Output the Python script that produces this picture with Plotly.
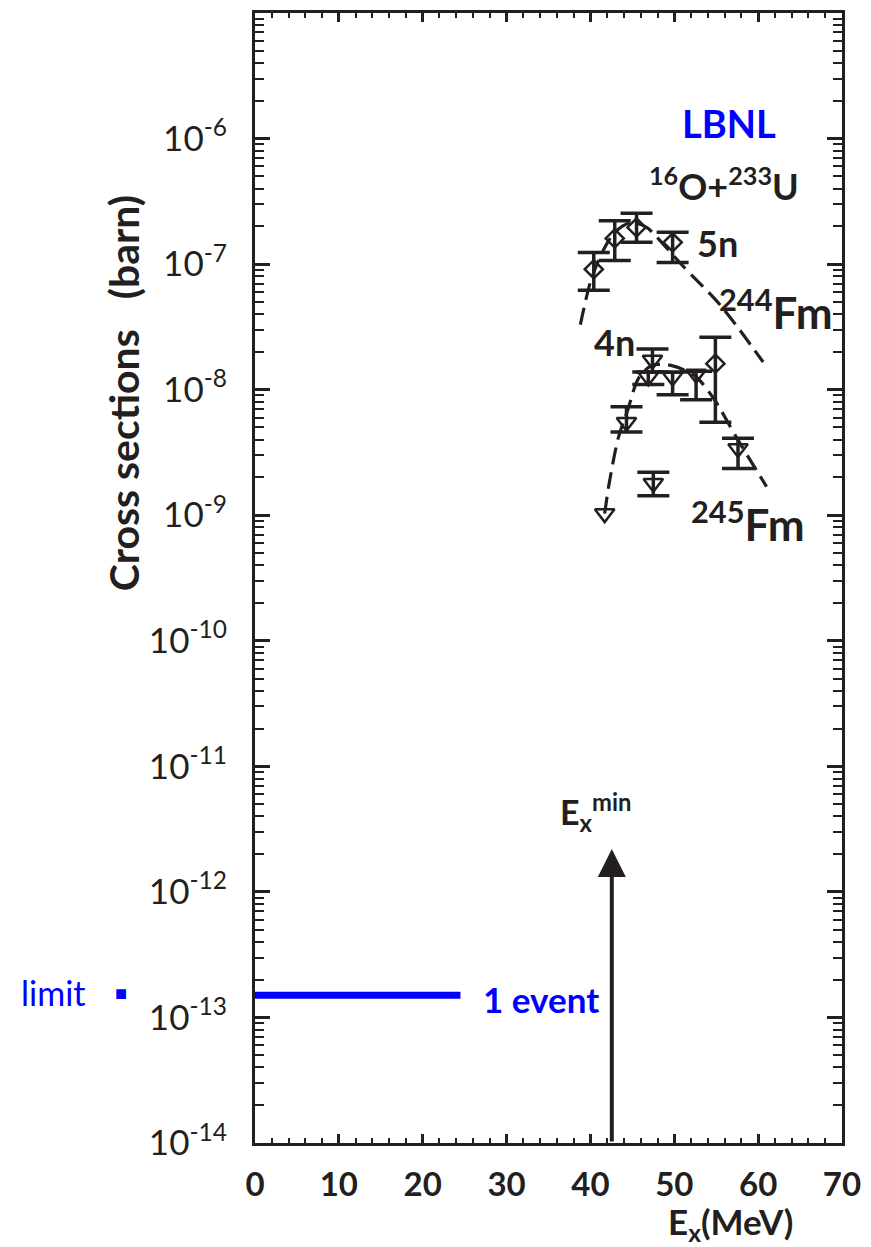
import numpy as np
import plotly.graph_objects as go

# ---------------- data ----------------
# 5n channel (244Fm), diamonds
E_5n = [40.4, 42.9, 45.5, 49.8, 54.9]
sig_5n = [9.1e-8, 1.6e-7, 1.96e-7, 1.49e-7, 1.61e-8]
sig_5n_hi = [1.24e-7, 2.21e-7, 2.54e-7, 1.79e-7, 2.62e-8]
sig_5n_lo = [6.2e-8, 1.07e-7, 1.49e-7, 1.03e-7, 5.5e-9]

# 4n channel (245Fm), down triangles with error bars
E_4n = [44.3, 46.9, 47.4, 47.5, 49.8, 52.6, 57.6]
sig_4n = [5.5e-9, 1.26e-8, 1.72e-8, 1.8e-9, 1.26e-8, 1.33e-8, 3.4e-9]
sig_4n_hi = [7.3e-9, 1.38e-8, 2.11e-8, 2.2e-9, 1.38e-8, 1.4e-8, 4.1e-9]
sig_4n_lo = [4.6e-9, 1.1e-8, 1.38e-8, 1.43e-9, 9.1e-9, 8.3e-9, 2.36e-9]
# 4n point without error bar (lowest energy)
E_4n_bare = [41.7]
sig_4n_bare = [1.03e-9]

# dashed guide curves
E_curve_5n = [38.8, 40.0, 41.4, 42.9, 44.9, 46.7, 47.6, 51.0, 55.5, 60.6]
sig_curve_5n = [3.3e-8, 7.2e-8, 1.24e-7, 1.79e-7, 2.15e-7, 1.96e-7, 1.73e-7, 9.7e-8, 4.7e-8, 1.66e-8]
E_curve_4n = [41.7, 42.2, 43.3, 44.5, 45.7, 47.3, 49.6, 52.4, 54.7, 57.5, 61.0]
sig_curve_4n = [1.03e-9, 1.74e-9, 4.07e-9, 7.06e-9, 1.22e-8, 1.56e-8, 1.56e-8, 1.3e-8, 8.5e-9, 4.07e-9, 1.69e-9]

# one-event limit line
E_limit = [0, 24.5]
sig_limit = [1.5e-13, 1.5e-13]

# E_x^min arrow
E_min = 42.55
arrow_top = 2.2e-12
arrow_bottom = 1e-14

# ticks
x_tickvals = [0, 10, 20, 30, 40, 50, 60, 70]
x_ticktext = ["0", "10", "20", "30", "40", "50", "60", "70"]
y_exponents = [-14, -13, -12, -11, -10, -9, -8, -7, -6]
y_tickvals = [10.0 ** e for e in y_exponents]
y_ticktext = ["10<sup>%d</sup>" % e for e in y_exponents]
y_minorvals = [m * 10.0 ** e for e in range(-14, -5) for m in range(2, 10)]

# ---------------- style ----------------
BLACK = "#231f20"
BLUE = "#0000ff"
FONT = "Lato"


def plus_minus(val, hi, lo):
    plus = [h - v for v, h in zip(val, hi)]
    minus = [v - l for v, l in zip(val, lo)]
    return plus, minus


fig = go.Figure()

curve_line = dict(color=BLACK, width=3.2, dash="17px,8px", shape="spline", smoothing=0.8)
fig.add_trace(go.Scatter(x=E_curve_5n, y=sig_curve_5n, mode="lines", line=curve_line, hoverinfo="skip"))
fig.add_trace(go.Scatter(x=E_curve_4n, y=sig_curve_4n, mode="lines", line=curve_line, hoverinfo="skip"))

err_style = dict(type="data", symmetric=False, color=BLACK, thickness=3.5, width=16)

p5, m5 = plus_minus(sig_5n, sig_5n_hi, sig_5n_lo)
fig.add_trace(go.Scatter(x=E_5n, y=sig_5n, mode="markers",
                         marker=dict(symbol="diamond-open", size=14, color=BLACK, line=dict(width=2.5, color=BLACK)),
                         error_y=dict(array=p5, arrayminus=m5, **err_style)))

p4, m4 = plus_minus(sig_4n, sig_4n_hi, sig_4n_lo)
tri_marker = dict(symbol="triangle-down-open", size=17, color=BLACK, line=dict(width=2.5, color=BLACK))
fig.add_trace(go.Scatter(x=E_4n, y=sig_4n, mode="markers", marker=tri_marker,
                         error_y=dict(array=p4, arrayminus=m4, **err_style)))
fig.add_trace(go.Scatter(x=E_4n_bare, y=sig_4n_bare, mode="markers", marker=tri_marker))

# limit line
fig.add_trace(go.Scatter(x=E_limit, y=sig_limit, mode="lines",
                         line=dict(color=BLUE, width=7), hoverinfo="skip"))

# E_x^min arrow
fig.add_annotation(x=E_min, y=np.log10(arrow_top), ax=E_min, ay=np.log10(arrow_bottom),
                   xref="x", yref="y", axref="x", ayref="y", text="", showarrow=True,
                   arrowhead=2, arrowsize=1.4, arrowwidth=4, arrowcolor=BLACK, standoff=0)


def label(text, x, y, size, color=BLACK, bold=True, xref="x", yref="y", angle=0):
    fig.add_annotation(x=x, y=y, xref=xref, yref=yref, text=text, showarrow=False,
                       textangle=angle, xanchor="center", yanchor="middle",
                       font=dict(family=FONT, size=size, color=color, weight="bold" if bold else "normal"))


label("LBNL", 56.5, -5.874, 38, color=BLUE)
label("<sup>16</sup>O+<sup>233</sup>U", 55.9, -6.36, 36)
label("5n", 55.2, -6.835, 36)
label("<sup>244</sup>Fm", 62.1, -7.36, 44)
label("4n", 42.9, -7.62, 36)
label("<sup>245</sup>Fm", 58.8, -9.05, 44)
label("E<sub>x</sub><sup>min</sup>", 40.6, -11.37, 34)
label("1 event", 34.1, -12.85, 35, color=BLUE)
label("limit", -0.343, 0.133, 34, color=BLUE, bold=False, xref="paper", yref="paper")
label("■", -0.229, 0.134, 20, color=BLUE, xref="paper", yref="paper")
label("Cross sections\u00a0\u00a0\u00a0(barn)", -0.224, 0.663, 41, xref="paper", yref="paper", angle=-90)
label("E<sub>x</sub>(MeV)", 0.81, -0.071, 35, xref="paper", yref="paper")

fig.update_xaxes(range=[0, 70], tickmode="array", tickvals=x_tickvals, ticktext=x_ticktext,
                 ticks="inside", ticklen=9, tickwidth=2.5, tickcolor=BLACK,
                 showline=True, linewidth=3, linecolor=BLACK, mirror="allticks",
                 showgrid=False, zeroline=False, ticklabelstandoff=10, ticklabeloverflow="allow",
                 tickfont=dict(family=FONT, size=33, color=BLACK, weight="bold"),
                 minor=dict(tickmode="linear", tick0=0, dtick=2, ticks="inside", ticklen=5,
                            tickwidth=2, tickcolor=BLACK, showgrid=False))
fig.update_yaxes(type="log", range=[-14, -5], tickmode="array", tickvals=y_tickvals, ticktext=y_ticktext,
                 ticks="inside", ticklen=15, tickwidth=2.5, tickcolor=BLACK,
                 showline=True, linewidth=3, linecolor=BLACK, mirror="allticks",
                 showgrid=False, zeroline=False, ticklabelstandoff=18, ticklabeloverflow="allow",
                 tickfont=dict(family=FONT, size=35, color=BLACK),
                 minor=dict(tickmode="array", tickvals=y_minorvals, ticks="inside", ticklen=9,
                            tickwidth=2, tickcolor=BLACK, showgrid=False))

fig.update_layout(width=871, height=1247, margin=dict(l=255, r=19, t=10, b=104),
                  plot_bgcolor="white", paper_bgcolor="white", showlegend=False,
                  font=dict(family=FONT, color=BLACK))

fig.write_html("out.html")
